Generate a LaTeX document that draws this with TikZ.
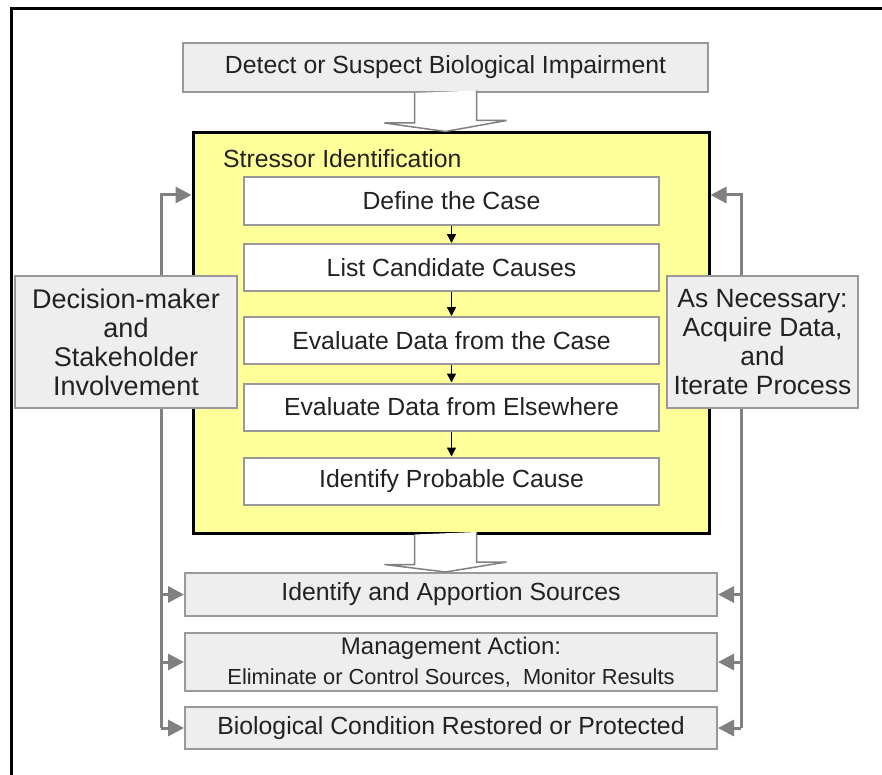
\documentclass[tikz,border=0pt]{standalone}
\usepackage{fontspec}
\setmainfont{Liberation Sans}
\usetikzlibrary{arrows.meta,calc}
\definecolor{boxgray}{HTML}{EEEEEE}
\definecolor{edgegray}{HTML}{999999}
\definecolor{feedgray}{HTML}{808080}
\definecolor{siyellow}{HTML}{FFFF99}
\definecolor{textdark}{HTML}{222222}

\begin{document}
\begin{tikzpicture}[x=0.5pt,y=-0.5pt,
  every node/.style={font=\fontsize{12.4}{14}\selectfont,text=textdark},
  graybox/.style={draw=edgegray,line width=1pt,fill=boxgray,inner sep=0pt,align=center},
  stepbox/.style={draw=edgegray,line width=1pt,fill=white,inner sep=0pt,minimum width=207.5pt,minimum height=23.5pt},
  feed/.style={draw=feedgray,line width=1.5pt},
  feedarrow/.style={feed,-{Triangle[length=8pt,width=8pt]}},
  steparrow/.style={draw=black,line width=0.75pt,-{Triangle[length=4.5pt,width=4.5pt]}},
  hollow/.style={draw=feedgray,line width=0.75pt,fill=white}]
  \useasboundingbox (0,0) rectangle (882,775);
  \draw[line width=1.5pt] (11,775) -- (11,9) -- (882,9);

  % top box and stressor identification
  \node[graybox,minimum width=262.5pt,minimum height=24.5pt] (detect) at (445.5,67.5) {Detect or Suspect Biological Impairment};
  \node[draw=black,line width=1.5pt,fill=siyellow,minimum width=258pt,minimum height=200pt] (si) at (451,333) {};
  \node[anchor=west] (silabel) at (216,159) {Stressor Identification};
  \node[stepbox] (case) at (451.5,201) {Define the Case};
  \node[stepbox] (list) at (451.5,267.5) {List Candidate Causes};
  \node[stepbox] (evalcase) at (451.5,340.5) {Evaluate Data from the Case};
  \node[stepbox] (evalelse) at (451.5,407) {Evaluate Data from Elsewhere};
  \node[stepbox] (probable) at (451.5,481) {Identify Probable Cause};
  \draw[steparrow] (case) -- (list);
  \draw[steparrow] (list) -- (evalcase);
  \draw[steparrow] (evalcase) -- (evalelse);
  \draw[steparrow] (evalelse) -- (probable);

  % bottom boxes
  \node[graybox,minimum width=266pt,minimum height=21.5pt] (sources) at (451,594.5) {Identify and Apportion Sources};
  \node[graybox,minimum width=266pt,minimum height=29pt,font=\fontsize{12}{14}\selectfont] (mgmt) at (451,662) {Management Action:\\[1pt]{\fontsize{10.9}{12}\selectfont Eliminate or Control Sources,\ \ Monitor Results}};
  \node[graybox,minimum width=266pt,minimum height=21pt] (restored) at (451,728) {Biological Condition Restored or Protected};

  % block arrows
  \draw[hollow] (detect.south) ++(-31,0) -- ++(0,30) -- ++(-30,0) -- (detect.south |- si.north) -- ++(61,-11) -- ++(-30,0) -- ++(0,-30);
  \draw[hollow] (detect.south |- si.south) ++(-31,0) -- ++(0,30) -- ++(-30,0) -- (detect.south |- sources.north) -- ++(61,-10) -- ++(-30,0) -- ++(0,-30);

  % feedback lines
  \coordinate (ltop) at (161,195);
  \coordinate (lbot) at (161,728);
  \coordinate (rtop) at (741,195);
  \coordinate (rbot) at (741,728);
  \draw[feedarrow] (lbot) -- (ltop) -- (ltop -| si.west);
  \draw[feedarrow] (lbot |- sources.west) -- (sources.west);
  \draw[feedarrow] (lbot |- mgmt.west) -- (mgmt.west);
  \draw[feedarrow] (lbot) -- (restored.west);
  \draw[feedarrow] (rbot) -- (rtop) -- (rtop -| si.east);
  \draw[feedarrow] (rbot |- sources.east) -- (sources.east);
  \draw[feedarrow] (rbot |- mgmt.east) -- (mgmt.east);
  \draw[feedarrow] (rbot) -- (restored.east);

  % side boxes
  \node[graybox,minimum width=111pt,minimum height=66pt,font=\fontsize{13.5}{14.5}\selectfont] (decision) at (126,342) {Decision-maker\\and\\Stakeholder\\Involvement};
  \node[graybox,minimum width=95.5pt,minimum height=66pt,font=\fontsize{13.2}{14.5}\selectfont] (necessary) at (762.5,342) {As Necessary:\\Acquire Data,\\and\\Iterate Process};
\end{tikzpicture}
\end{document}
